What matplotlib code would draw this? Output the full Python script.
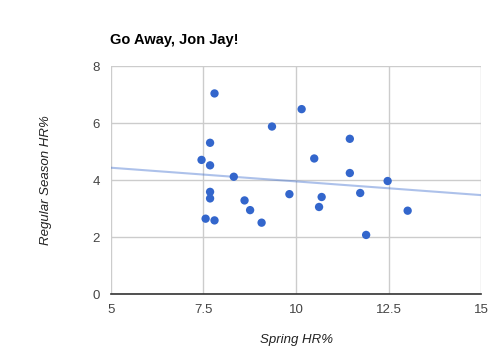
import numpy as np
import matplotlib
matplotlib.use("Agg")
import matplotlib.pyplot as plt

plt.rcParams['font.family'] = ['Liberation Sans', 'DejaVu Sans']

# spring vs regular season HR%
spring_hr = [7.80, 9.35, 10.15, 7.68, 7.45, 7.68, 8.32, 7.68, 7.68, 8.61, 8.76, 7.56,
             7.80, 9.07, 9.82, 11.45, 10.49, 11.45, 12.47, 11.73, 10.69, 10.62, 13.01, 11.89]
season_hr = [7.04, 5.88, 6.49, 5.31, 4.71, 4.52, 4.12, 3.59, 3.36, 3.29, 2.95, 2.65,
             2.59, 2.51, 3.51, 5.45, 4.76, 4.25, 3.97, 3.55, 3.41, 3.06, 2.93, 2.08]
x_ticks = [5, 7.5, 10, 12.5, 15]
x_tick_labels = ["5", "7.5", "10", "12.5", "15"]
y_ticks = [0, 2, 4, 6, 8]

fig = plt.figure(figsize=(4.91, 3.58), dpi=100)
ax = fig.add_axes([0.2255, 0.178, 0.755, 0.6375])

# linear trendline like google charts
slope, intercept = np.polyfit(spring_hr, season_hr, 1)
tx = np.array([5, 15])
ax.plot(tx, slope * tx + intercept, color='#3366cc', alpha=0.4, lw=1.5, zorder=2)

ax.scatter(spring_hr, season_hr, s=36, color='#3366cc', edgecolors='none', zorder=3)

ax.set_xlim(5, 15)
ax.set_ylim(0, 8)
ax.set_xticks(x_ticks)
ax.set_xticklabels(x_tick_labels)
ax.set_yticks(y_ticks)
ax.grid(True, color='#cccccc', lw=1)
ax.set_axisbelow(True)
for side in ['top', 'right', 'left']:
    ax.spines[side].set_visible(False)
ax.spines['bottom'].set_color('#333333')
ax.spines['bottom'].set_linewidth(1.2)
ax.tick_params(length=0, labelsize=9.5, labelcolor='#444444')
ax.tick_params(axis='x', pad=7)
ax.tick_params(axis='y', pad=8)

ax.set_xlabel("Spring HR%", fontstyle='italic', fontsize=9.5, color='#222222', labelpad=13)
ax.set_ylabel("Regular Season HR%", fontstyle='italic', fontsize=9.5, color='#222222', labelpad=29)

fig.text(0.2245, 1 - 40 / 358, "Go Away, Jon Jay!", fontsize=10.5, fontweight='bold',
         va='center', ha='left')

fig.savefig("out.png", dpi=100)
